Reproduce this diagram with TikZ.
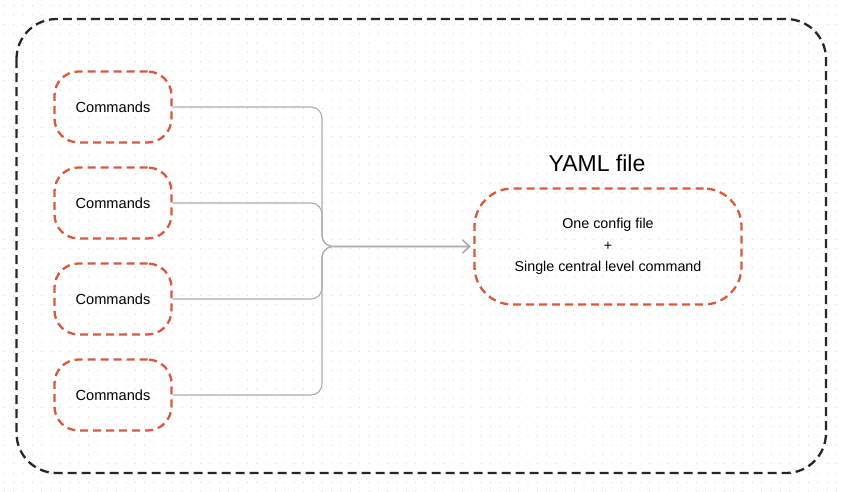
\documentclass[tikz,border=0pt]{standalone}
\usepackage{xcolor}
\usepackage{fontspec}
\setmainfont{Liberation Sans}
\usepackage{tikz}
\usetikzlibrary{arrows.meta}

\definecolor{boxred}{RGB}{218,88,60}
\definecolor{framegray}{RGB}{38,38,38}
\definecolor{linkgray}{RGB}{172,172,172}
\definecolor{dotgray}{RGB}{212,212,212}

\begin{document}
\begin{tikzpicture}[x=1pt,y=1pt,yscale=-1,xscale=1,
  cmdbox/.style={draw=boxred,line width=2.3pt,dash pattern=on 8pt off 5pt,rounded corners=24pt,minimum width=117pt,minimum height=71pt,inner sep=0pt,font=\fontsize{14.6}{17}\selectfont},
  yamlbox/.style={draw=boxred,line width=2.3pt,dash pattern=on 8pt off 5pt,rounded corners=38pt,minimum width=267pt,minimum height=116pt,inner sep=0pt,align=center,font=\fontsize{14.3}{21.5}\selectfont},
  link/.style={draw=linkgray,line width=1.1pt,rounded corners=11pt,-{Straight Barb[length=7pt,width=13pt]},shorten >=3pt}]
\useasboundingbox (0,0) rectangle (845,491);

%Dot grid
\foreach \i in {0,...,90}
  \foreach \j in {0,...,52}
    \fill[dotgray] (4.35+\i*9.35,5.6+\j*9.35) circle (0.6);

%Shape: Frame
\draw [framegray,line width=2.3pt,dash pattern=on 9pt off 5pt,rounded corners=40pt] (16.5,19) rectangle (826,473);

%Shape: Commands
\foreach \k in {1,...,4}
  \node [cmdbox] (cmd\k) at (113,{11+96*\k}) {Commands};

%Shape: YAML box
\node [yamlbox] (yaml) at (608,246.5) {One config file\\+\\Single central level command};
% Text Node
\node [font=\fontsize{23}{26}\selectfont,inner sep=0pt] (title) at (597,163) {YAML file};

\coordinate (split) at (322,246.5);

%Straight Lines
\foreach \k in {1,...,4}
  \draw [link] (cmd\k.east) -| (split) -- (yaml.west);
\end{tikzpicture}
\end{document}
